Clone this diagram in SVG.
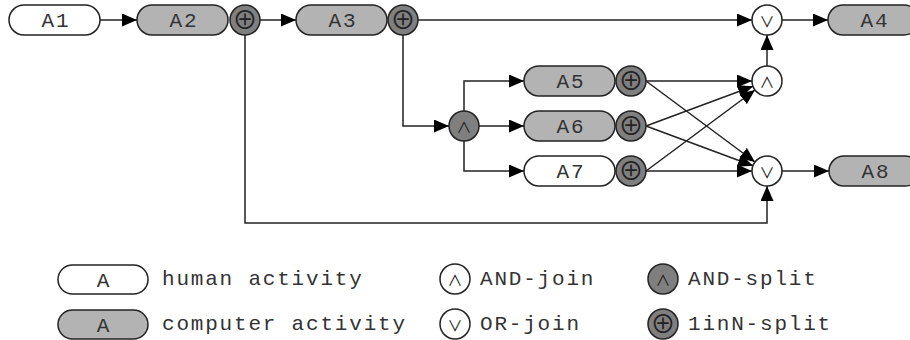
<svg xmlns="http://www.w3.org/2000/svg" width="910" height="340" viewBox="0 0 910 340">
<defs>
<marker id="ah" markerWidth="15" markerHeight="13" refX="15" refY="6.5" orient="auto" markerUnits="userSpaceOnUse">
<path d="M0,0 L15,6.5 L0,13 Z" fill="#000"/>
</marker>
<style>
.hum{fill:#fff;stroke:#222;stroke-width:1.5}
.cmp{fill:#b3b3b3;stroke:#222;stroke-width:1.5}
.spl{fill:#7f7f7f;stroke:#222;stroke-width:1.5}
.jn{fill:#fff;stroke:#222;stroke-width:1.5}
.lbl{font-family:"Liberation Mono","Courier New",monospace;font-size:21px;fill:#333;letter-spacing:1.8px}
.sym{font-family:"Noto Sans CJK JP","DejaVu Sans",sans-serif;font-size:15px;fill:#222;text-anchor:middle}
.plus{font-family:"Noto Sans CJK JP","DejaVu Sans",sans-serif;font-size:25px;fill:#222;text-anchor:middle}
.ca{fill:none;stroke:#222;stroke-width:1.5;marker-end:url(#ah)}
</style>
</defs>
<g id="connectors">
<line class="ca" x1="100" y1="20" x2="137" y2="20"/>
<line class="ca" x1="260" y1="20" x2="296" y2="20"/>
<line class="ca" x1="418" y1="20" x2="752" y2="20"/>
<line class="ca" x1="782" y1="20" x2="828" y2="20"/>
<line class="ca" x1="767" y1="66" x2="767" y2="35"/>
<polyline class="ca" points="403,35 403,126 449,126"/>
<polyline class="ca" points="464,111 464,81 524,81"/>
<line class="ca" x1="479" y1="126" x2="524" y2="126"/>
<polyline class="ca" points="464,141 464,171 524,171"/>
<line class="ca" x1="646" y1="81" x2="752" y2="81"/>
<line class="ca" x1="646" y1="81" x2="755" y2="162"/>
<line class="ca" x1="646" y1="126" x2="753" y2="86.2"/>
<line class="ca" x1="646" y1="126" x2="753" y2="165.8"/>
<line class="ca" x1="646" y1="171" x2="755" y2="90"/>
<line class="ca" x1="646" y1="171" x2="752" y2="171"/>
<line class="ca" x1="782" y1="171" x2="829" y2="171"/>
<polyline class="ca" points="245,35 245,223 767,223 767,186"/>
</g>
<g id="A1"><rect class="hum" x="9" y="5" width="91" height="30" rx="15"/><text class="lbl" x="56" y="27" text-anchor="middle">A1</text></g>
<g id="A2"><rect class="cmp" x="137" y="5" width="91" height="30" rx="15"/><text class="lbl" x="184" y="27" text-anchor="middle">A2</text></g>
<g id="S2"><circle class="spl" cx="245" cy="20" r="15"/><text class="plus" x="245" y="29">⊕</text></g>
<g id="A3"><rect class="cmp" x="296" y="5" width="91" height="30" rx="15"/><text class="lbl" x="343" y="27" text-anchor="middle">A3</text></g>
<g id="S3"><circle class="spl" cx="403" cy="20" r="15"/><text class="plus" x="403" y="29">⊕</text></g>
<g id="OR1"><circle class="jn" cx="767" cy="20" r="15"/><text class="sym" x="767" y="26.5">∨</text></g>
<g id="A4"><rect class="cmp" x="828" y="5" width="91" height="30" rx="15"/><text class="lbl" x="875" y="27" text-anchor="middle">A4</text></g>
<g id="ANDS"><circle class="spl" cx="464" cy="126" r="15"/><text class="sym" x="464" y="132.5">∧</text></g>
<g id="A5"><rect class="cmp" x="524" y="66" width="91" height="30" rx="15"/><text class="lbl" x="571" y="88" text-anchor="middle">A5</text></g>
<g id="S5"><circle class="spl" cx="631" cy="81" r="15"/><text class="plus" x="631" y="90">⊕</text></g>
<g id="A6"><rect class="cmp" x="524" y="111" width="91" height="30" rx="15"/><text class="lbl" x="571" y="133" text-anchor="middle">A6</text></g>
<g id="S6"><circle class="spl" cx="631" cy="126" r="15"/><text class="plus" x="631" y="135">⊕</text></g>
<g id="A7"><rect class="hum" x="524" y="156" width="91" height="30" rx="15"/><text class="lbl" x="571" y="178" text-anchor="middle">A7</text></g>
<g id="S7"><circle class="spl" cx="631" cy="171" r="15"/><text class="plus" x="631" y="180">⊕</text></g>
<g id="ANDJ"><circle class="jn" cx="767" cy="81" r="15"/><text class="sym" x="767" y="87.5">∧</text></g>
<g id="OR2"><circle class="jn" cx="767" cy="171" r="15"/><text class="sym" x="767" y="177.5">∨</text></g>
<g id="A8"><rect class="cmp" x="829" y="156" width="91" height="30" rx="15"/><text class="lbl" x="876" y="178" text-anchor="middle">A8</text></g>
<g id="legend">
<rect class="hum" x="58" y="265" width="90" height="29" rx="14.5"/><text class="lbl" x="104" y="287" text-anchor="middle">A</text>
<text class="lbl" x="162" y="285">human activity</text>
<rect class="cmp" x="58" y="310" width="90" height="29" rx="14.5"/><text class="lbl" x="104" y="332" text-anchor="middle">A</text>
<text class="lbl" x="162" y="330">computer activity</text>
<circle class="jn" cx="455" cy="279" r="15"/><text class="sym" x="455" y="285.5">∧</text>
<text class="lbl" x="480" y="285">AND-join</text>
<circle class="jn" cx="455" cy="324" r="15"/><text class="sym" x="455" y="330.5">∨</text>
<text class="lbl" x="480" y="330">OR-join</text>
<circle class="spl" cx="663" cy="279" r="15"/><text class="sym" x="663" y="285.5">∧</text>
<text class="lbl" x="688" y="285">AND-split</text>
<circle class="spl" cx="663" cy="324" r="15"/><text class="plus" x="663" y="333">⊕</text>
<text class="lbl" x="688" y="330">1inN-split</text>
</g>
</svg>
